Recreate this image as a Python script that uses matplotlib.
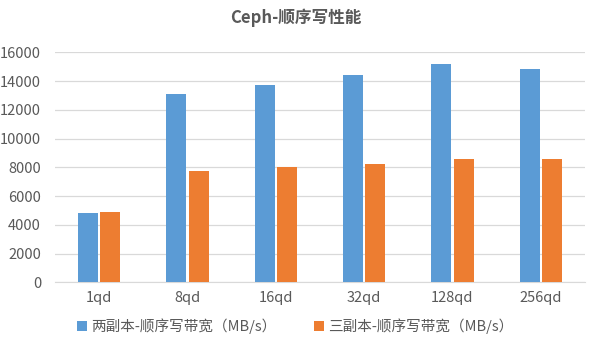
import matplotlib
matplotlib.use("Agg")
import matplotlib.pyplot as plt
import numpy as np

plt.rcParams['font.family'] = ['Noto Sans CJK SC', 'DejaVu Sans']

categories = ['1qd', '8qd', '16qd', '32qd', '128qd', '256qd']
two_replica = [4820, 13100, 13730, 14420, 15190, 14840]
three_replica = [4890, 7750, 8020, 8230, 8580, 8580]
series_names = ['两副本-顺序写带宽（MB/s）', '三副本-顺序写带宽（MB/s）']
title = 'Ceph-顺序写性能'
yticks = [0, 2000, 4000, 6000, 8000, 10000, 12000, 14000, 16000]

fig = plt.figure(figsize=(5.91, 3.51), dpi=100)
ax = fig.add_axes([55/591, 68.7/351, 530/591, 230/351])

x = np.arange(len(categories))
w = 0.227
gap = 0.028
b1 = ax.bar(x - (w + gap)/2, two_replica, w, color='#5b9bd5', label=series_names[0], zorder=3)
b2 = ax.bar(x + (w + gap)/2, three_replica, w, color='#ed7d31', label=series_names[1], zorder=3)

ax.set_xlim(-0.5, len(categories) - 0.5)
ax.set_ylim(0, 16000)
ax.set_yticks(yticks)
ax.set_xticks(x)
ax.set_xticklabels(categories)
ax.tick_params(axis='both', length=0, labelsize=10.5, colors='#595959', pad=6)
ax.tick_params(axis='y', pad=10)
ax.grid(axis='y', color='#d9d9d9', linewidth=0.9, zorder=0)
for s in ['top', 'right', 'left']:
    ax.spines[s].set_visible(False)
ax.spines['bottom'].set_color('#d9d9d9')

fig.text(0.5, 1 - 18/351, title, ha='center', va='center', fontsize=12,
         fontweight='bold', color='#595959')

fig.legend(handles=[b1, b2], labels=series_names, loc='center', ncol=2,
           bbox_to_anchor=(0.5, 1 - 326/351), frameon=False, fontsize=10.5,
           handlelength=0.65, handleheight=0.65, columnspacing=2.6, handletextpad=0.3,
           labelcolor='#595959')

fig.savefig('out.png', dpi=100)
